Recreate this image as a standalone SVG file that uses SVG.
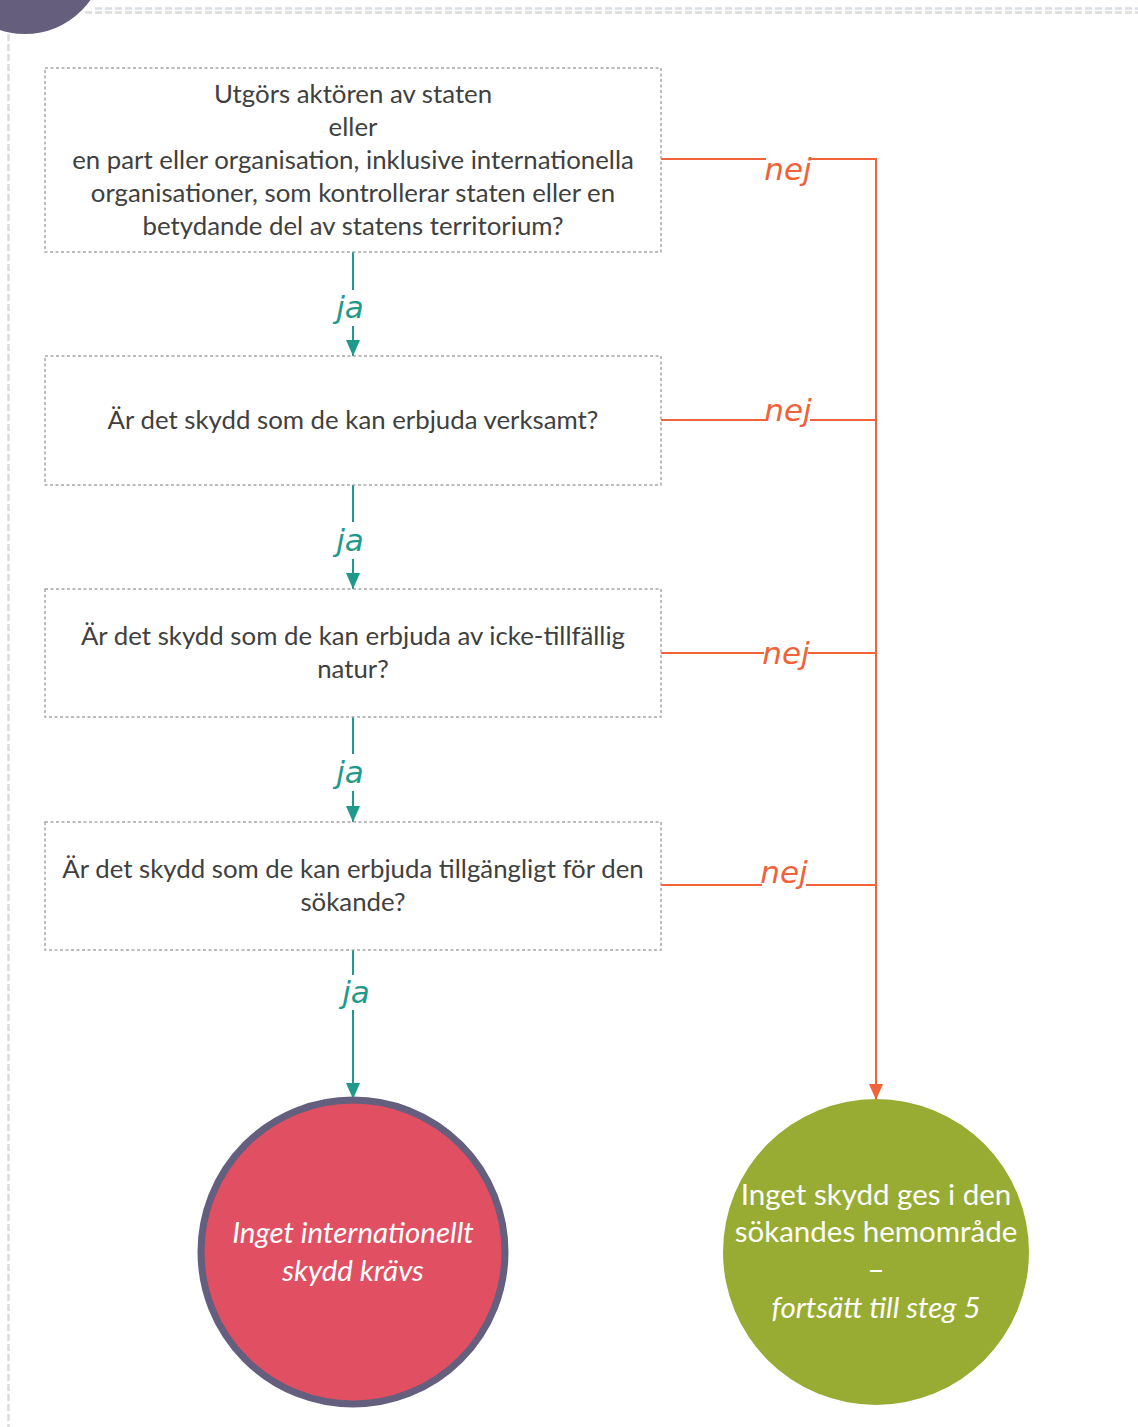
<svg xmlns="http://www.w3.org/2000/svg" width="1138" height="1427" viewBox="0 0 1138 1427">
  <style>
    .box { fill: #ffffff; stroke: #a6a6a6; stroke-width: 1.5; stroke-dasharray: 3 2.5; }
    .q { font-family: Lato, "Liberation Sans", sans-serif; font-size: 25.8px; fill: #404040; text-anchor: middle; }
    .yes { stroke: #1f9a8a; stroke-width: 2; fill: none; }
    .no { stroke: #f0623a; stroke-width: 2; fill: none; }
    .lblYes { font-family: "DejaVu Sans", sans-serif; font-style: italic; font-size: 31px; fill: #1f9a8a; text-anchor: middle; }
    .lblNo { font-family: "DejaVu Sans", sans-serif; font-style: italic; font-size: 31px; fill: #f0623a; text-anchor: middle; }
    .end { font-family: Lato, "Liberation Sans", sans-serif; font-size: 29.5px; fill: #ffffff; text-anchor: middle; }
  </style>
  <defs>
    <marker id="arrTeal" viewBox="0 0 16 14" refX="16" refY="7" markerWidth="16" markerHeight="14" markerUnits="userSpaceOnUse" orient="auto">
      <path d="M0,0 L16,7 L0,14 Z" fill="#1f9a8a"/>
    </marker>
    <marker id="arrOrange" viewBox="0 0 16 14" refX="16" refY="7" markerWidth="16" markerHeight="14" markerUnits="userSpaceOnUse" orient="auto">
      <path d="M0,0 L16,7 L0,14 Z" fill="#f0623a"/>
    </marker>
  </defs>

  <rect width="1138" height="1427" fill="#ffffff"/>

  <!-- page frame -->
  <g id="frame">
    <line x1="95" y1="8.5" x2="1138" y2="8.5" stroke="#d8dde8" stroke-width="2.5" stroke-dasharray="7 3"/>
    <line x1="85" y1="12.5" x2="1138" y2="12.5" stroke="#dcdcdc" stroke-width="2.5" stroke-dasharray="7 3"/>
    <line x1="8.5" y1="34" x2="8.5" y2="1427" stroke="#dcdcdc" stroke-width="2.5" stroke-dasharray="7 3"/>
    <circle cx="25" cy="-46" r="80" fill="#655f7d"/>
  </g>

  <!-- connectors -->
  <g id="connectors">
    <!-- ja -->
    <line class="yes" x1="353" y1="252" x2="353" y2="290"/>
    <line class="yes" x1="353" y1="326" x2="353" y2="356" marker-end="url(#arrTeal)"/>
    <line class="yes" x1="353" y1="485" x2="353" y2="522"/>
    <line class="yes" x1="353" y1="559" x2="353" y2="589" marker-end="url(#arrTeal)"/>
    <line class="yes" x1="353" y1="717" x2="353" y2="754"/>
    <line class="yes" x1="353" y1="791" x2="353" y2="822" marker-end="url(#arrTeal)"/>
    <line class="yes" x1="353" y1="950" x2="353" y2="975"/>
    <line class="yes" x1="353" y1="1010" x2="353" y2="1099" marker-end="url(#arrTeal)"/>
    <text class="lblYes" x="350" y="318">ja</text>
    <text class="lblYes" x="350" y="551">ja</text>
    <text class="lblYes" x="350" y="783">ja</text>
    <text class="lblYes" x="356" y="1003">ja</text>

    <!-- nej -->
    <line class="no" x1="661" y1="159" x2="766" y2="159"/>
    <line class="no" x1="810" y1="159" x2="876" y2="159"/>
    <line class="no" x1="661" y1="420" x2="766" y2="420"/>
    <line class="no" x1="810" y1="420" x2="876" y2="420"/>
    <line class="no" x1="661" y1="653" x2="764" y2="653"/>
    <line class="no" x1="808" y1="653" x2="876" y2="653"/>
    <line class="no" x1="661" y1="885" x2="762" y2="885"/>
    <line class="no" x1="806" y1="885" x2="876" y2="885"/>
    <line class="no" x1="876" y1="158" x2="876" y2="1100" marker-end="url(#arrOrange)"/>
    <text class="lblNo" x="788" y="180">nej</text>
    <text class="lblNo" x="788" y="421">nej</text>
    <text class="lblNo" x="786" y="664">nej</text>
    <text class="lblNo" x="784" y="883">nej</text>
  </g>

  <!-- question boxes -->
  <g id="q1">
    <rect class="box" x="45" y="68" width="616" height="184"/>
    <text class="q" x="353" y="103">Utgörs aktören av staten</text>
    <text class="q" x="353" y="136">eller</text>
    <text class="q" x="353" y="169">en part eller organisation, inklusive internationella</text>
    <text class="q" x="353" y="202">organisationer, som kontrollerar staten eller en</text>
    <text class="q" x="353" y="235">betydande del av statens territorium?</text>
  </g>
  <g id="q2">
    <rect class="box" x="45" y="356" width="616" height="129"/>
    <text class="q" x="353" y="429">Är det skydd som de kan erbjuda verksamt?</text>
  </g>
  <g id="q3">
    <rect class="box" x="45" y="589" width="616" height="128"/>
    <text class="q" x="353" y="645">Är det skydd som de kan erbjuda av icke-tillfällig</text>
    <text class="q" x="353" y="678">natur?</text>
  </g>
  <g id="q4">
    <rect class="box" x="45" y="822" width="616" height="128"/>
    <text class="q" x="353" y="878">Är det skydd som de kan erbjuda tillgängligt för den</text>
    <text class="q" x="353" y="911">sökande?</text>
  </g>

  <!-- outcomes -->
  <g id="endYes">
    <circle cx="353" cy="1252" r="152" fill="#e04f62" stroke="#645f7e" stroke-width="7"/>
    <text class="end" x="353" y="1243" font-style="italic">Inget internationellt</text>
    <text class="end" x="353" y="1281" font-style="italic">skydd krävs</text>
  </g>
  <g id="endNo">
    <circle cx="876" cy="1252" r="153" fill="#98ac33"/>
    <text class="end" x="876" y="1205">Inget skydd ges i den</text>
    <text class="end" x="876" y="1242">sökandes hemområde</text>
    <text class="end" x="876" y="1280">–</text>
    <text class="end" x="876" y="1318" font-style="italic">fortsätt till steg 5</text>
  </g>
</svg>
